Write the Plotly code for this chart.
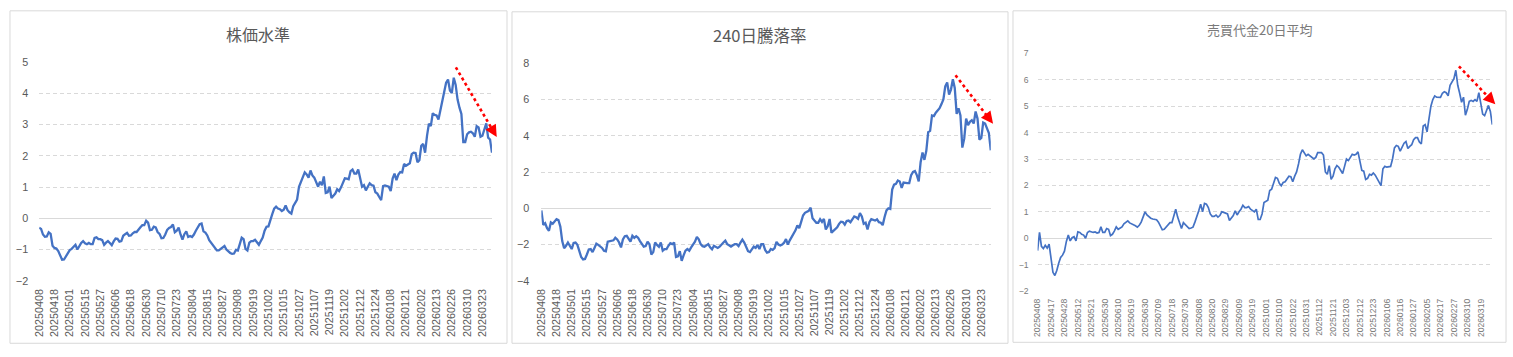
import plotly.graph_objects as go
import pandas as pd

# ---------------- data ----------------
jp_holidays = ["2025-04-29", "2025-05-05", "2025-05-06", "2025-07-21", "2025-08-11",
               "2025-09-15", "2025-09-23", "2025-10-13", "2025-11-03", "2025-11-24",
               "2025-12-31", "2026-01-01", "2026-01-02", "2026-01-12", "2026-02-11",
               "2026-02-23", "2026-03-20"]
dates = pd.bdate_range("2025-04-08", "2026-03-30", freq="C",
                       holidays=jp_holidays).strftime("%Y%m%d").tolist()

stock_level = [
    -0.30, -0.34, -0.52, -0.59, -0.58, -0.45, -0.50, -0.88, -0.95, -0.97,
    -1.05, -1.22, -1.33, -1.32, -1.22, -1.10, -1.02, -0.98, -0.92, -0.85,
    -1.00, -0.88, -0.79, -0.73, -0.80, -0.83, -0.79, -0.83, -0.83, -0.63,
    -0.61, -0.67, -0.67, -0.70, -0.85, -0.78, -0.73, -0.79, -0.86, -0.74,
    -0.65, -0.66, -0.75, -0.73, -0.56, -0.51, -0.47, -0.56, -0.55, -0.48,
    -0.44, -0.44, -0.35, -0.29, -0.22, -0.22, -0.08, -0.14, -0.38, -0.37,
    -0.27, -0.29, -0.44, -0.50, -0.64, -0.63, -0.52, -0.37, -0.31, -0.28,
    -0.20, -0.45, -0.40, -0.30, -0.52, -0.68, -0.51, -0.42, -0.60, -0.57,
    -0.60, -0.52, -0.40, -0.27, -0.19, -0.17, -0.42, -0.46, -0.55, -0.70,
    -0.79, -0.87, -0.96, -1.03, -1.03, -0.99, -0.93, -0.89, -1.00, -1.07,
    -1.11, -1.14, -1.13, -1.01, -1.03, -0.83, -0.62, -0.67, -0.98, -1.03,
    -0.78, -0.73, -0.73, -0.69, -0.76, -0.85, -0.73, -0.62, -0.40, -0.27,
    -0.26, -0.02, 0.13, 0.31, 0.37, 0.31, 0.29, 0.23, 0.27, 0.41,
    0.26, 0.19, 0.15, 0.39, 0.52, 0.60, 1.01, 1.17, 1.37, 1.47,
    1.40, 1.30, 1.53, 1.37, 1.30, 1.14, 1.01, 1.17, 1.06, 1.34,
    0.81, 0.83, 1.01, 0.65, 0.74, 0.79, 0.93, 0.87, 0.99, 1.12,
    1.28, 1.27, 1.25, 1.51, 1.56, 1.43, 1.43, 1.56, 1.27, 1.01,
    1.06, 0.89, 1.01, 1.12, 1.06, 1.04, 0.83, 0.79, 0.68, 0.58,
    1.03, 1.05, 1.03, 1.01, 0.87, 1.27, 1.43, 1.22, 1.40, 1.48,
    1.47, 1.74, 1.68, 1.71, 1.76, 2.05, 2.10, 2.09, 1.79, 1.86,
    2.32, 2.38, 2.10, 2.64, 3.03, 2.95, 3.36, 3.31, 3.29, 3.16,
    3.44, 3.75, 4.11, 4.34, 4.44, 4.09, 4.01, 4.50, 4.27, 3.80,
    3.54, 3.34, 2.44, 2.44, 2.69, 2.75, 2.77, 2.72, 2.61, 2.95,
    2.91, 2.61, 2.64, 2.85, 3.04, 2.58, 2.52, 2.10,
]

adv_decline_240 = [
    -0.12, -0.92, -0.83, -1.10, -1.24, -0.78, -0.85, -0.71, -0.60, -0.65,
    -1.01, -1.81, -2.21, -2.07, -1.89, -2.07, -2.25, -1.91, -1.89, -2.02,
    -2.37, -2.69, -2.83, -2.80, -2.55, -2.27, -2.25, -2.42, -2.19, -1.95,
    -2.02, -2.09, -2.19, -2.34, -2.37, -1.84, -1.81, -1.77, -1.77, -1.63,
    -1.72, -1.89, -2.16, -1.72, -1.54, -1.52, -1.66, -1.84, -1.52, -1.63,
    -1.54, -1.63, -1.81, -1.95, -2.12, -2.09, -1.84, -1.98, -2.55, -2.42,
    -1.89, -2.02, -2.12, -1.89, -2.34, -2.25, -2.25, -2.07, -1.93, -1.98,
    -1.89, -2.69, -2.65, -2.37, -2.90, -2.60, -2.34, -2.25, -2.34, -2.16,
    -2.02, -1.84, -1.58, -1.72, -1.98, -2.09, -2.12, -2.04, -1.98, -2.16,
    -2.27, -2.07, -2.12, -2.19, -2.12, -1.98, -1.89, -1.79, -1.98, -2.04,
    -2.12, -2.04, -1.98, -1.98, -2.09, -1.89, -1.73, -1.89, -2.16, -2.37,
    -2.42, -2.25, -2.12, -2.19, -2.02, -2.25, -1.98, -1.98, -2.30, -2.45,
    -2.42, -2.25, -2.30, -2.20, -1.85, -2.00, -2.05, -2.00, -1.90, -1.70,
    -2.00, -1.77, -1.60, -1.40, -1.22, -0.95, -1.10, -0.75, -0.40, -0.25,
    -0.18, -0.14, 0.03, -0.55, -0.68, -0.80, -0.80, -0.60, -0.75, -0.59,
    -1.17, -0.99, -0.59, -1.35, -1.25, -1.15, -1.05, -0.86, -0.74, -0.76,
    -0.90, -0.70, -0.68, -0.77, -0.59, -0.45, -0.50, -0.58, -0.27, -0.45,
    -0.86, -0.80, -1.17, -0.77, -0.60, -0.65, -0.68, -0.61, -0.77, -0.80,
    -0.93, -0.48, -0.12, 0.00, -0.04, 1.03, 1.30, 1.35, 1.53, 1.48,
    1.12, 1.42, 1.39, 1.39, 1.39, 1.83, 2.01, 2.06, 1.83, 1.48,
    2.54, 3.08, 2.67, 3.17, 4.20, 4.27, 5.12, 5.09, 5.27, 5.39,
    5.52, 5.75, 6.01, 6.73, 6.94, 6.28, 6.55, 7.12, 6.64, 5.21,
    5.52, 5.12, 3.35, 3.84, 4.95, 4.59, 4.77, 4.86, 4.68, 5.34,
    4.95, 3.79, 3.88, 4.73, 4.68, 4.41, 4.15, 3.20,
]

turnover_20d = [
    -0.47, 0.22, -0.31, -0.39, -0.27, -0.37, -0.22, -0.73, -1.29, -1.41,
    -1.22, -0.95, -0.73, -0.64, -0.49, -0.12, 0.12, -0.10, 0.02, 0.06,
    -0.10, 0.24, 0.22, 0.15, 0.12, 0.00, 0.22, 0.27, 0.24, 0.22,
    0.24, 0.20, 0.22, 0.43, 0.22, 0.22, 0.37, 0.34, 0.10, 0.15,
    0.27, 0.43, 0.34, 0.37, 0.43, 0.55, 0.61, 0.66, 0.58, 0.55,
    0.51, 0.47, 0.42, 0.49, 0.61, 0.80, 1.00, 0.88, 0.80, 0.76,
    0.73, 0.71, 0.70, 0.61, 0.43, 0.32, 0.34, 0.43, 0.51, 0.59,
    0.59, 0.88, 1.10, 0.80, 0.55, 0.37, 0.59, 0.51, 0.42, 0.37,
    0.39, 0.42, 0.61, 0.80, 1.04, 1.29, 1.00, 1.32, 1.29, 1.16,
    0.92, 0.83, 0.83, 0.88, 0.80, 0.86, 1.00, 0.98, 0.95, 0.92,
    0.67, 0.76, 0.86, 1.04, 0.88, 1.00, 1.10, 1.25, 1.16, 1.16,
    1.20, 1.10, 1.05, 1.00, 1.10, 0.71, 0.71, 0.92, 1.35, 1.41,
    1.44, 1.81, 1.86, 2.08, 2.30, 2.27, 2.08, 1.99, 2.11, 2.14,
    2.27, 2.35, 2.33, 2.14, 2.35, 2.51, 2.81, 3.18, 3.35, 3.24,
    3.12, 3.18, 3.12, 3.06, 3.00, 3.06, 3.24, 3.24, 3.24, 3.15,
    2.51, 2.42, 2.75, 2.23, 2.35, 2.63, 2.75, 2.69, 2.54, 2.45,
    2.72, 3.00, 2.94, 3.06, 3.18, 3.15, 3.18, 3.27, 2.94, 2.57,
    2.54, 2.23, 2.27, 2.42, 2.39, 2.47, 2.39, 2.27, 2.14, 1.99,
    2.63, 2.72, 2.69, 2.72, 2.72, 3.00, 3.42, 3.51, 3.48, 3.30,
    3.48, 3.60, 3.66, 3.40, 3.48, 3.54, 3.73, 3.81, 3.81, 3.64,
    3.57, 4.25, 4.30, 4.03, 4.52, 5.00, 5.25, 5.39, 5.34, 5.33,
    5.33, 5.49, 5.55, 5.51, 5.39, 5.79, 5.91, 6.04, 6.36, 5.79,
    5.49, 5.15, 5.34, 4.66, 4.88, 5.18, 5.22, 5.18, 5.25, 5.18,
    5.51, 5.12, 4.70, 4.64, 4.88, 5.03, 4.80, 4.30,
]

titles = ["株価水準", "240日騰落率", "売買代金20日平均"]
series = [stock_level, adv_decline_240, turnover_20d]
label_every = [8, 8, 7]
y_ranges = [[-2, 5], [-4, 8], [-2, 7]]
y_dticks = [1, 2, 1]
# arrow annotations: (start index, start value, end index, end value)
arrows = [(218.1, 4.83, 239.5, 2.60),
          (218.4, 7.34, 238.2, 4.67),
          (219.6, 6.51, 238.6, 5.07)]

# ---------------- layout / style ----------------
W, H = 1513, 357
plot_px = [(33.3, 487.9, 58.0, 284.3),
           (537.5, 988.7, 59.3, 284.3),
           (1035.7, 1492.2, 49.0, 295.0)]
boxes_px = [(4, 503, 5, 349), (508, 1006, 6, 349), (1011, 1506, 5, 348)]
title_px = [(253.3, 28.5), (756, 30), (1258.7, 24.5)]
title_size = [16, 16.5, 13]
tick_size = [10.8, 10.8, 8.6]
txt_color = ["#595959", "#595959", "#7a7a7a"]
line_w = [2.3, 2.3, 1.7]
ystand = [10, 11, 8]
LINE_C = "#4472C4"
GRID_C = "#d9d9d9"
NUMFONT = "Liberation Sans, Arial, sans-serif"
CJKFONT = "Noto Sans CJK JP, sans-serif"

fig = go.Figure()
shapes, annotations = [], []
n = len(dates)
xmax = n - 1

for k in range(3):
    xa = "x" if k == 0 else f"x{k+1}"
    ya = "y" if k == 0 else f"y{k+1}"
    x0, x1, yt, yb = plot_px[k]
    fig.add_trace(go.Scatter(x=dates, y=series[k], mode="lines",
                             line=dict(color=LINE_C, width=line_w[k]),
                             xaxis=xa, yaxis=ya, showlegend=False,
                             hoverinfo="x+y"))
    axkey = "xaxis" if k == 0 else f"xaxis{k+1}"
    aykey = "yaxis" if k == 0 else f"yaxis{k+1}"
    fig.layout[axkey] = dict(
        type="category", domain=[x0 / W, x1 / W], range=[0, xmax],
        anchor=ya, tickmode="array",
        tickvals=dates[::label_every[k]], ticktext=dates[::label_every[k]],
        tickangle=-90, showgrid=False, zeroline=False, showline=False,
        ticks="", ticklabelstandoff=5,
        tickfont=dict(family=NUMFONT, size=tick_size[k], color=txt_color[k]),
        fixedrange=True)
    fig.layout[aykey] = dict(
        domain=[1 - yb / H, 1 - yt / H], range=y_ranges[k], dtick=y_dticks[k],
        tick0=0, anchor=xa, showgrid=True, gridcolor=GRID_C, gridwidth=1,
        griddash="4px,3px", zeroline=True, zerolinecolor=GRID_C,
        zerolinewidth=1.3, showline=False, ticks="",
        ticklabelstandoff=ystand[k],
        tickfont=dict(family=NUMFONT, size=tick_size[k], color=txt_color[k]),
        fixedrange=True)

    # chart border
    bx0, bx1, by0, by1 = boxes_px[k]
    shapes.append(dict(type="rect", xref="paper", yref="paper",
                       x0=bx0 / W, x1=bx1 / W, y0=1 - by1 / H, y1=1 - by0 / H,
                       line=dict(color=GRID_C, width=1), fillcolor="rgba(0,0,0,0)",
                       layer="below"))
    # title
    tx, ty = title_px[k]
    annotations.append(dict(text=titles[k], xref="paper", yref="paper",
                            x=tx / W, y=1 - ty / H, xanchor="center",
                            yanchor="middle", showarrow=False,
                            font=dict(family=CJKFONT, size=title_size[k],
                                      color=txt_color[k])))
    # red dotted trend arrow (drawn in axis-domain units so it is not clipped)
    sx, sy, ex, ey = arrows[k]
    y0r, y1r = y_ranges[k]
    def dx(v):
        return v / xmax
    def dy(v):
        return (v - y0r) / (y1r - y0r)
    fx = sx + 0.86 * (ex - sx)
    fy = sy + 0.86 * (ey - sy)
    shapes.append(dict(type="line", xref=f"{xa} domain", yref=f"{ya} domain",
                       x0=dx(sx), y0=dy(sy), x1=dx(fx), y1=dy(fy),
                       line=dict(color="#FF0000", width=2.6, dash="dot")))
    hx = sx + 0.84 * (ex - sx)
    hy = sy + 0.84 * (ey - sy)
    annotations.append(dict(x=ex, y=ey, ax=hx, ay=hy, xref=xa, yref=ya,
                            axref=xa, ayref=ya, text="", showarrow=True,
                            arrowhead=2, arrowsize=1.0, arrowwidth=2.4,
                            arrowcolor="#FF0000", standoff=0))

fig.update_layout(width=W, height=H, margin=dict(l=0, r=0, t=0, b=0),
                  paper_bgcolor="white", plot_bgcolor="white",
                  shapes=shapes, annotations=annotations, showlegend=False,
                  font=dict(family=NUMFONT))
fig.write_html("out.html", config={"displayModeBar": False},
               post_script="document.body.style.margin='0';"
                           "document.body.style.padding='0';"
                           "document.body.style.overflow='hidden';")
